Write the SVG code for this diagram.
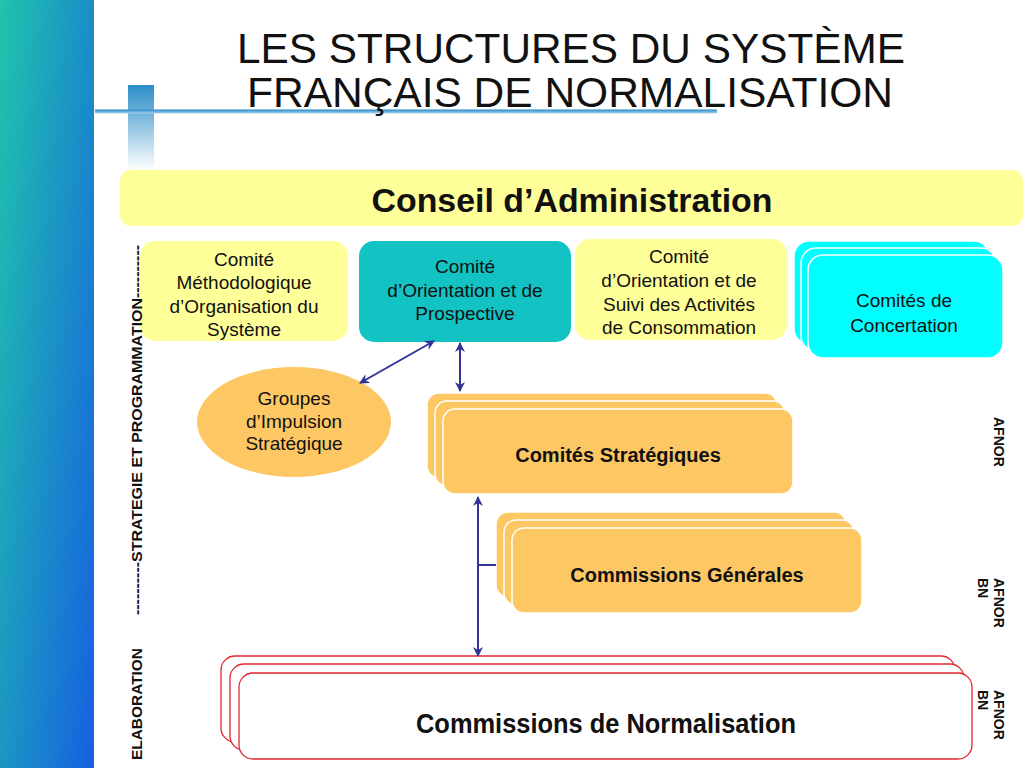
<svg xmlns="http://www.w3.org/2000/svg" width="1024" height="768" viewBox="0 0 1024 768">
<defs>
<linearGradient id="side" gradientUnits="userSpaceOnUse" x1="0" y1="0" x2="169" y2="17">
<stop offset="0" stop-color="#20c4ac"/>
<stop offset="1" stop-color="#1660e0"/>
</linearGradient>
<linearGradient id="bar" x1="0" y1="0" x2="0" y2="1">
<stop offset="0" stop-color="#2a8dc8"/>
<stop offset="1" stop-color="#ffffff"/>
</linearGradient>
<linearGradient id="rule" x1="0" y1="0" x2="0" y2="1">
<stop offset="0" stop-color="#1f88c8"/>
<stop offset="1" stop-color="#b0d4ee"/>
</linearGradient>
<marker id="ah" viewBox="0 0 10 10" refX="9" refY="5" markerWidth="5" markerHeight="5" orient="auto-start-reverse" markerUnits="strokeWidth">
<path d="M0,0 L10,5 L0,10 L3,5 z" fill="#333399"/>
</marker>
<style>
text{font-family:"Liberation Sans",Arial,Helvetica,sans-serif;fill:#111}
.title{font-size:42px}
.n{font-size:19px;text-anchor:middle}
.b{font-weight:bold;text-anchor:middle}
.side{font-weight:bold;font-size:14px}
.yel{fill:#ffff99}
.teal{fill:#13c2c2}
.cyan{fill:#00ffff;stroke:#ffffff;stroke-width:1.5}
.org{fill:#fdc864;stroke:#ffffff;stroke-width:1.5}
.red{fill:#ffffff;stroke:#e0282e;stroke-width:1.3}
.con{stroke:#333399;stroke-width:2;fill:none}
</style>
</defs>
<rect width="1024" height="768" fill="#ffffff"/>
<rect x="0" y="0" width="94" height="768" fill="url(#side)"/>
<rect x="128" y="85" width="26" height="85" fill="url(#bar)"/>
<rect x="95" y="109.5" width="622" height="4" fill="url(#rule)"/>
<text class="title" x="237" y="63" textLength="668" lengthAdjust="spacingAndGlyphs">LES STRUCTURES DU SYSTÈME</text>
<text class="title" x="247" y="107" textLength="646" lengthAdjust="spacingAndGlyphs">FRANÇAIS DE NORMALISATION</text>

<g id="conseil">
<rect class="yel" x="120" y="170" width="903" height="56" rx="10"/>
<text class="b" x="572" y="212" font-size="33" textLength="401" lengthAdjust="spacingAndGlyphs">Conseil d’Administration</text>
</g>

<g id="comite-methodo">
<rect class="yel" x="140" y="241" width="208" height="100" rx="15"/>
<text class="n" x="244" y="266">Comité</text>
<text class="n" x="244" y="289">Méthodologique</text>
<text class="n" x="244" y="313">d’Organisation du</text>
<text class="n" x="244" y="336">Système</text>
</g>

<g id="comite-prospective">
<rect class="teal" x="359" y="241" width="212" height="101" rx="15"/>
<text class="n" x="465" y="273">Comité</text>
<text class="n" x="465" y="297">d’Orientation et de</text>
<text class="n" x="465" y="320">Prospective</text>
</g>

<g id="comite-consommation">
<rect class="yel" x="575" y="239" width="212" height="101" rx="15"/>
<text class="n" x="679" y="263">Comité</text>
<text class="n" x="679" y="287">d’Orientation et de</text>
<text class="n" x="679" y="311">Suivi des Activités</text>
<text class="n" x="679" y="334">de Consommation</text>
</g>

<g id="comites-concertation">
<rect class="cyan" x="794" y="241" width="195" height="103" rx="15"/>
<rect class="cyan" x="801" y="248" width="195" height="103" rx="15"/>
<rect class="cyan" x="808" y="255" width="195" height="103" rx="15"/>
<text class="n" x="904" y="307">Comités de</text>
<text class="n" x="904" y="332">Concertation</text>
</g>

<g id="groupes-impulsion">
<ellipse cx="294" cy="422" rx="97" ry="55" fill="#fdc864"/>
<text class="n" x="294" y="405">Groupes</text>
<text class="n" x="294" y="428">d’Impulsion</text>
<text class="n" x="294" y="450">Stratégique</text>
</g>

<g id="comites-strategiques">
<rect class="org" x="427" y="393" width="350" height="85" rx="12"/>
<rect class="org" x="435" y="401" width="350" height="85" rx="12"/>
<rect class="org" x="443" y="409" width="350" height="85" rx="12"/>
<text class="b" x="618" y="462" font-size="20">Comités Stratégiques</text>
</g>

<g id="commissions-generales">
<rect class="org" x="496" y="512" width="350" height="85" rx="12"/>
<rect class="org" x="504" y="520" width="350" height="85" rx="12"/>
<rect class="org" x="512" y="528" width="350" height="85" rx="12"/>
<text class="b" x="687" y="582" font-size="20">Commissions Générales</text>
</g>

<g id="commissions-normalisation">
<rect class="red" x="221" y="656" width="734" height="86" rx="14"/>
<rect class="red" x="230" y="664" width="734" height="86" rx="14"/>
<rect class="red" x="239" y="673" width="733" height="86" rx="14"/>
<text class="b" x="606" y="733" font-size="28" textLength="380" lengthAdjust="spacingAndGlyphs">Commissions de Normalisation</text>
</g>

<g id="connectors">
<line class="con" x1="434" y1="341" x2="360" y2="383" marker-start="url(#ah)" marker-end="url(#ah)"/>
<line class="con" x1="460" y1="343" x2="460" y2="391" marker-start="url(#ah)" marker-end="url(#ah)"/>
<line class="con" x1="478" y1="497" x2="478" y2="656" marker-start="url(#ah)" marker-end="url(#ah)"/>
<line class="con" x1="478" y1="565" x2="496" y2="565" stroke-width="1.5"/>
</g>

<g id="side-labels">
<text class="side" transform="translate(142,615) rotate(-90)" textLength="370" lengthAdjust="spacingAndGlyphs">----------STRATEGIE ET PROGRAMMATION----------</text>
<text class="side" transform="translate(142,760) rotate(-90)" textLength="112" lengthAdjust="spacingAndGlyphs">ELABORATION</text>
<text class="side" font-size="13" transform="translate(994,417) rotate(90)">AFNOR</text>
<text class="side" font-size="13" transform="translate(994,578) rotate(90)">AFNOR<tspan x="0" dy="16">BN</tspan></text>
<text class="side" font-size="13" transform="translate(994,690) rotate(90)">AFNOR<tspan x="0" dy="16">BN</tspan></text>
</g>
</svg>
